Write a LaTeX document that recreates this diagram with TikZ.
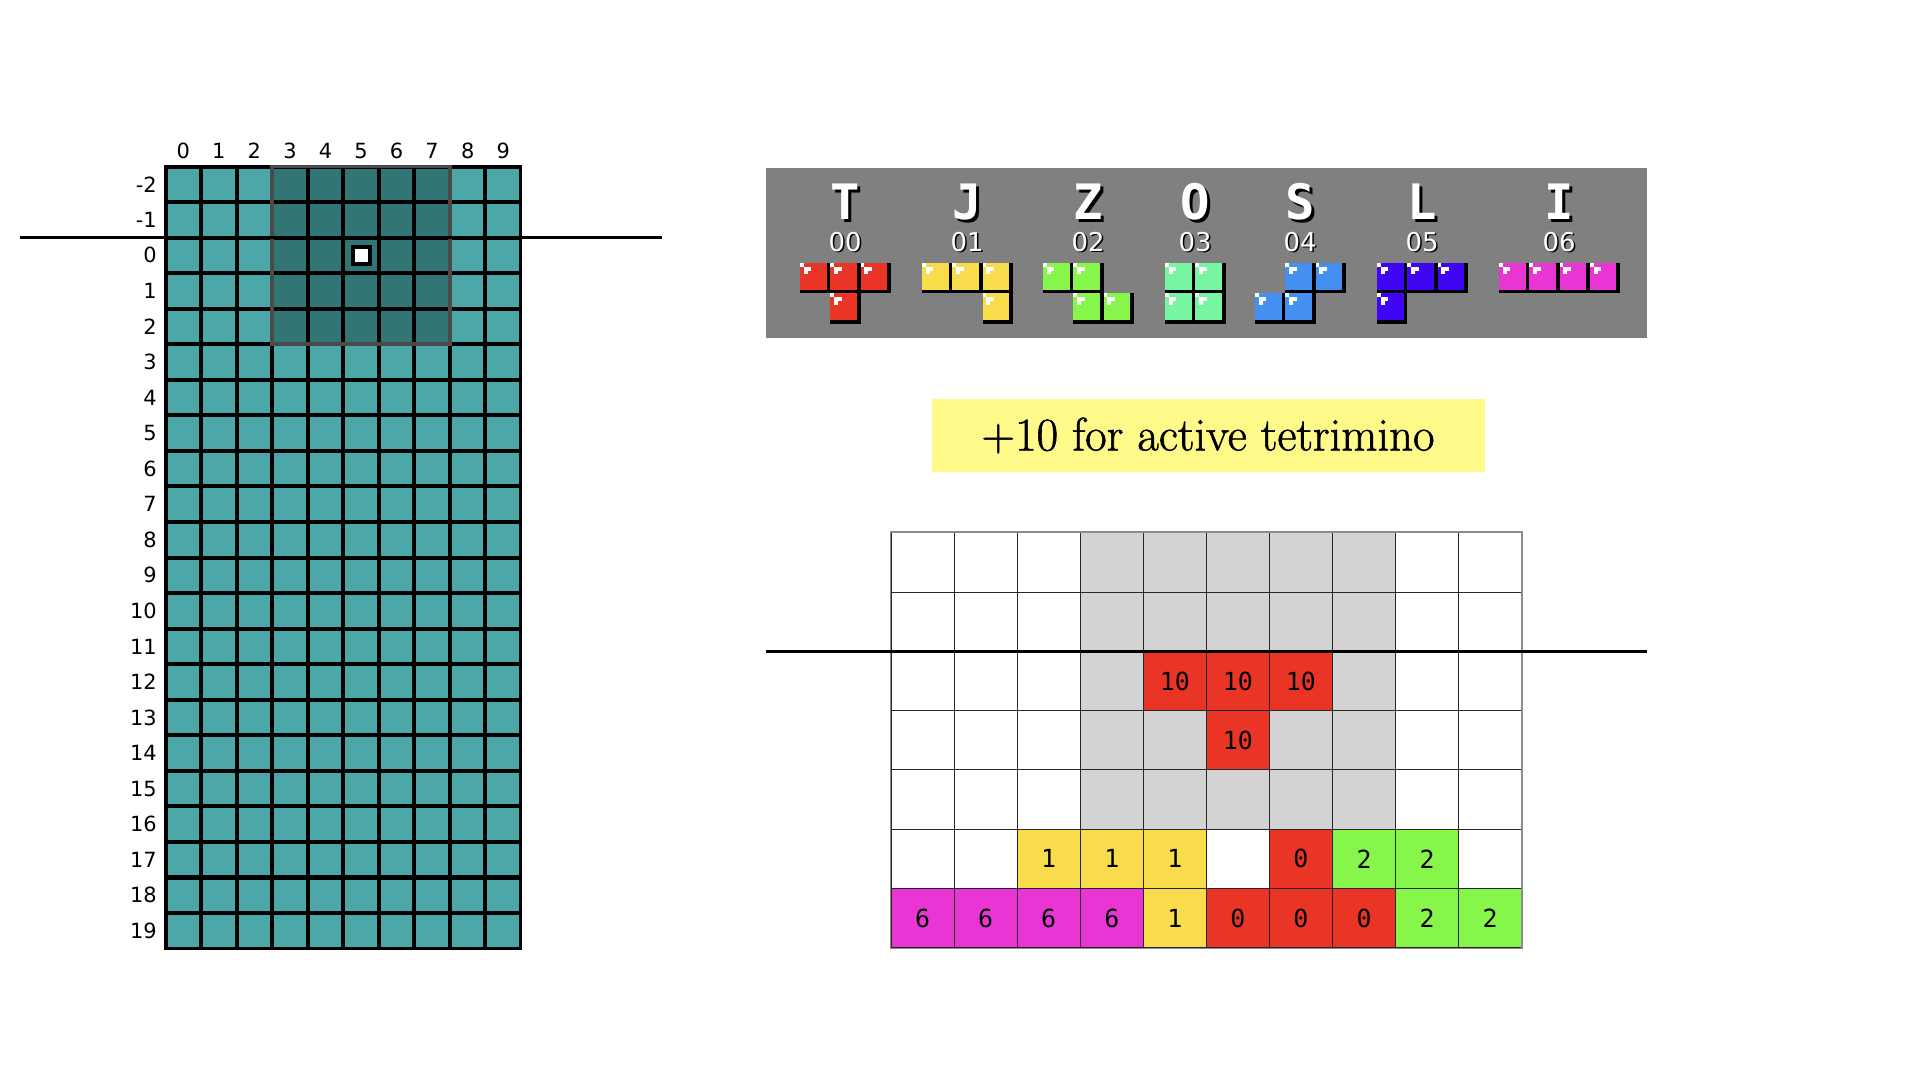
\documentclass[tikz,border=0pt]{standalone}
\usepackage{fontspec}
\usetikzlibrary{positioning}
\newfontfamily\boardfont{DejaVu Sans}
\newfontfamily\cellfont{DejaVu Sans Mono}
\newfontfamily\notefont{Latin Modern Roman}[FakeBold=1.2]

\definecolor{teallight}{HTML}{4CA7A8}
\definecolor{tealdark}{HTML}{317574}
\definecolor{framegray}{HTML}{4A4A4A}
\definecolor{panelgray}{HTML}{808080}
\definecolor{tred}{HTML}{EA3526}
\definecolor{tyellow}{HTML}{F9DC4C}
\definecolor{tgreen}{HTML}{86F74A}
\definecolor{tmint}{HTML}{78F5A0}
\definecolor{tblue}{HTML}{4390F1}
\definecolor{tpurple}{HTML}{3F05F4}
\definecolor{tmagenta}{HTML}{E835D4}
\definecolor{notebg}{HTML}{FFF98A}
\definecolor{shade}{HTML}{D3D3D3}

% one NES block: x, y, colour
\newcommand{\tblock}[3]{%
  \fill[black] (#1,#2) rectangle ++(30.3,30.3);
  \fill[#3] (#1,#2) rectangle ++(26.5,26.5);
  \fill[white] (#1,#2) rectangle ++(3.8,3.8);
  \fill[white] (#1+3.8,#2+3.8) rectangle ++(7.6,3.8);
  \fill[white] (#1+3.8,#2+7.6) rectangle ++(3.8,3.8);
}
% one piece: x, colour, tiles
\newcommand{\tpiece}[3]{%
  \foreach \i/\j in {#3}{\tblock{#1+30.3*\i}{263+30.3*\j}{#2}}
}

\begin{document}
\begin{tikzpicture}[x=1bp, y=-1bp]
  \tikzset{boardcell/.style = {shape        = rectangle,
                               draw         = none,
                               inner sep    = 0pt,
                               outer sep    = 0pt,
                               minimum size = 31.5bp},
           boardlabel/.style = {font=\boardfont\fontsize{21}{21}\selectfont, inner sep=0pt},
           piecename/.style = {font=\cellfont\bfseries\fontsize{49}{49}\selectfont, inner sep=0pt, anchor=base},
           piececode/.style = {font=\boardfont\fontsize{26}{26}\selectfont, inner sep=0pt, anchor=base},
           stackcell/.style = {shape=rectangle, draw=black!85, line width=1bp, inner sep=0pt,
                               minimum width=63.07bp, minimum height=59.3bp,
                               font=\cellfont\fontsize{25}{25}\selectfont},
           note/.style = {fill=notebg, minimum width=553bp, minimum height=73bp,
                          font=\notefont\fontsize{47}{47}\selectfont}}
  \useasboundingbox (0,0) rectangle (1920,1080);
  \fill[white] (0,0) rectangle (1920,1080);
  %%% LEFT BOARD %%%
  \fill[black] (165.5,166.5) rectangle (521,948.6);
  \foreach \c in {0,...,9}{
    \foreach \r in {-2,...,19}{
      \def\cellcol{teallight}
      \ifnum\c>2 \ifnum\c<8 \ifnum\r<3 \def\cellcol{tealdark}\fi\fi\fi
      \node[boardcell, fill=\cellcol] (b-\c-\r) at ({165.5+35.55*(\c+0.5)},{166.5+35.55*(\r+2.5)}) {};
    }
  }
  \draw[black, line width=3bp] ([shift={(-2,-2)}]b-0--2.north west) rectangle ([shift={(2,2)}]b-9-19.south east);
  \draw[framegray, line width=3.5bp] ([shift={(-2,-2)}]b-3--2.north west) rectangle ([shift={(2,2)}]b-7-2.south east);
  \node[draw=black, fill=white, line width=4bp, minimum size=17bp, inner sep=0pt] (spawn) at (b-5-0) {};
  \foreach \c in {0,...,9}
    \node[boardlabel] (col-\c) at ({165.5+35.55*(\c+0.5)},151) {\c};
  \foreach \r in {-2,...,19}
    \node[boardlabel, anchor=east] (row-\r) at (157,{166.5+35.55*(\r+2.5)}) {\r};
  \draw[line width=3bp] (20,237.6) -- (662,237.6);
  %%% PIECES %%%
  \fill[panelgray] (766,168.3) rectangle (1647,338);
  \foreach \x/\l/\n in {845/T/00, 967/J/01, 1088/Z/02, 1195/O/03, 1300/S/04, 1422/L/05, 1559/I/06}{
    \node[piecename, black] at (\x+3,222) {\l};
    \node[piecename, white] (name-\l) at (\x,219) {\l};
    \node[piececode, black] at (\x+1.5,252.5) {\n};
    \node[piececode, white] (code-\l) at (\x,251) {\n};
  }
  \tpiece{800}{tred}{0/0,1/0,2/0,1/1}
  \tpiece{922}{tyellow}{0/0,1/0,2/0,2/1}
  \tpiece{1043}{tgreen}{0/0,1/0,1/1,2/1}
  \tpiece{1165}{tmint}{0/0,1/0,0/1,1/1}
  \tpiece{1255}{tblue}{1/0,2/0,0/1,1/1}
  \tpiece{1377}{tpurple}{0/0,1/0,2/0,0/1}
  \tpiece{1499}{tmagenta}{0/0,1/0,2/0,3/0}
  %%% NOTE %%%
  \node[note] (bonus) at (1208,435.5) {+10 for active tetrimino};
  %%% STACK %%%
  \foreach \c in {0,...,9}{
    \foreach \r in {0,...,6}{
      \def\cellcol{white}
      \ifnum\c>2 \ifnum\c<8 \ifnum\r<5 \def\cellcol{shade}\fi\fi\fi
      \node[stackcell, fill=\cellcol] (s-\c-\r) at ({891+63.07*(\c+0.5)},{532.7+59.3*(\r+0.5)}) {};
    }
  }
  \foreach \c/\r/\f/\v in {4/2/tred/10, 5/2/tred/10, 6/2/tred/10, 5/3/tred/10,
                           2/5/tyellow/1, 3/5/tyellow/1, 4/5/tyellow/1, 6/5/tred/0, 7/5/tgreen/2, 8/5/tgreen/2,
                           0/6/tmagenta/6, 1/6/tmagenta/6, 2/6/tmagenta/6, 3/6/tmagenta/6, 4/6/tyellow/1,
                           5/6/tred/0, 6/6/tred/0, 7/6/tred/0, 8/6/tgreen/2, 9/6/tgreen/2}
    \node[stackcell, fill=\f] (v-\c-\r) at (s-\c-\r) {\v};
  \draw[black!45, line width=1.5bp] (s-0-0.north west) rectangle (s-9-6.south east);
  \draw[line width=3.7bp] (766,651.6) -- (1647,651.6);
\end{tikzpicture}
\end{document}
